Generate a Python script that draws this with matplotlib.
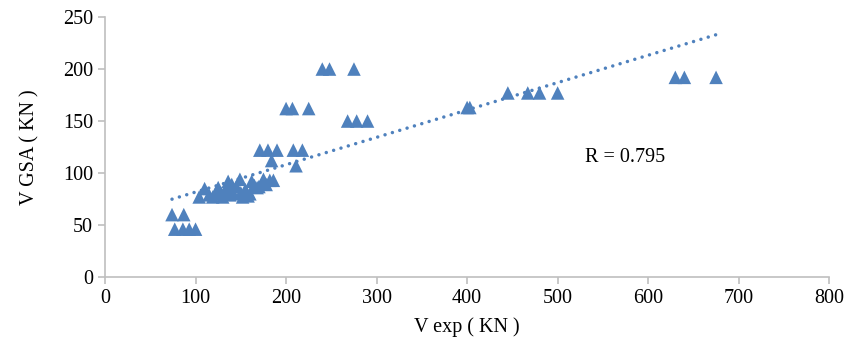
import numpy as np
import matplotlib
matplotlib.use("Agg")
import matplotlib.pyplot as plt

# Experimental vs. GSA shear capacity (kN)
v_exp = [
    74, 87, 77, 86, 93, 100,
    104, 110, 115, 119, 122, 125, 128, 130, 133, 136, 138, 140, 142, 145,
    149, 150, 152, 155, 158, 160, 162, 165, 168, 170, 175, 178, 182, 186,
    184, 171, 180, 190, 208, 218, 211,
    200, 207, 225, 240, 248, 275, 268, 278, 290,
    400, 403, 445, 467, 480, 500,
    630, 640, 675,
]
v_gsa = [
    60, 60, 46, 46, 46, 46,
    77, 85, 79, 77, 80, 86, 81, 77, 84, 92, 79, 89, 80, 87,
    94, 81, 77, 84, 78, 80, 92, 88, 86, 87, 94, 89, 93, 93,
    112, 122, 122, 122, 122, 122, 107,
    162, 162, 162, 200, 200, 200, 150, 150, 150,
    163, 163, 177, 177, 177, 177,
    192, 192, 192,
]
r_label = "R = 0.795"

x_ticks = np.arange(0, 801, 100)
y_ticks = np.arange(0, 251, 50)

blue = "#4F81BD"
axis_grey = "#BFBFBF"

plt.rcParams["font.family"] = ["Liberation Serif", "DejaVu Serif"]

fig = plt.figure(figsize=(8.47, 3.48), dpi=100)
ax = fig.add_axes([0.124, 0.204, 0.855, 0.747])

x = np.array(v_exp, dtype=float)
y = np.array(v_gsa, dtype=float)

ax.scatter(x, y, marker="^", s=95, color=blue, edgecolors="none", zorder=3)

# Linear trend line over the data range
slope, intercept = np.polyfit(x, y, 1)
xt = np.linspace(x.min(), x.max(), 200)
ax.plot(xt, slope * xt + intercept, color=blue, lw=2.5,
        linestyle=(0, (0.01, 2.2)), dash_capstyle="round", zorder=2)

ax.text(530, 115, r_label, fontsize=14.5, color="#000000", va="center", ha="left")

ax.set_xlim(0, 800)
ax.set_ylim(0, 250)
ax.set_xticks(x_ticks)
ax.set_yticks(y_ticks)
ax.tick_params(axis="both", colors=axis_grey, labelcolor="#000000",
               labelsize=14.5, length=5, width=1.2, direction="out")

for side in ("top", "right"):
    ax.spines[side].set_visible(False)
for side in ("left", "bottom"):
    ax.spines[side].set_color(axis_grey)
    ax.spines[side].set_linewidth(1.2)

ax.set_xlabel("V exp ( KN )", fontsize=14.5, labelpad=7)
ax.set_ylabel("V GSA ( KN )", fontsize=14.5, labelpad=17)

fig.savefig("out.png", dpi=100)
